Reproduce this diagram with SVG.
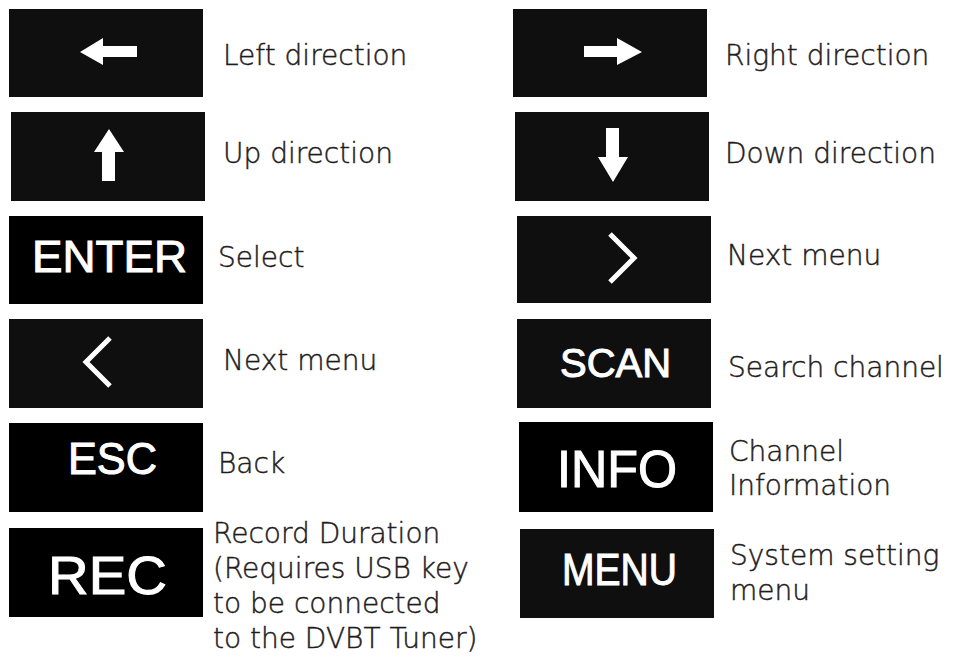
<svg xmlns="http://www.w3.org/2000/svg" width="956" height="670" viewBox="0 0 956 670">
<style>
.btn{fill:#0f0f0f}
.blk{fill:#000}
.key{fill:#fff;stroke:#fff;stroke-width:1;font-family:"Liberation Sans",Arial,sans-serif;text-anchor:middle}
.lbl{fill:#1f1c1d;stroke:#1f1c1d;stroke-width:0.45;font-family:"DejaVu Sans","Liberation Sans",sans-serif;font-size:28px;font-weight:300}
.glyph{fill:#fff}
.chev{fill:none;stroke:#fff;stroke-width:5;stroke-linecap:butt;stroke-linejoin:miter}
</style>
<rect width="956" height="670" fill="#fff"/>
<g id="left">
<rect class="btn" x="9" y="9" width="194" height="88"/>
<polygon class="glyph" points="80,52 103,38 103,46 137,46 137,57 103,57 103,65"/>
<text class="lbl" x="223" y="65">Left direction</text>
</g>
<g id="right">
<rect class="btn" x="513" y="9" width="194" height="88"/>
<polygon class="glyph" points="584,46 617,46 617,38 642,52 617,65 617,57 584,57"/>
<text class="lbl" x="725" y="65">Right direction</text>
</g>
<g id="up">
<rect class="btn" x="11" y="112" width="194" height="89"/>
<polygon class="glyph" points="109,129 124,152 115,152 115,181 102,181 102,152 94,152"/>
<text class="lbl" x="223" y="163">Up direction</text>
</g>
<g id="down">
<rect class="btn" x="515" y="112" width="194" height="89"/>
<polygon class="glyph" points="606,128 619,128 619,157 628,157 613,182 598,157 606,157"/>
<text class="lbl" x="725" y="163">Down direction</text>
</g>
<g id="enter">
<rect class="blk" x="9" y="216" width="194" height="88"/>
<text class="key" x="109.5" y="272" font-size="45" textLength="155" lengthAdjust="spacingAndGlyphs">ENTER</text>
<text class="lbl" x="218" y="267">Select</text>
</g>
<g id="next-right">
<rect class="btn" x="517" y="216" width="194" height="87"/>
<polyline class="chev" points="610,234 634,258 610,282"/>
<text class="lbl" x="727" y="265">Next menu</text>
</g>
<g id="next-left">
<rect class="btn" x="9" y="319" width="194" height="89"/>
<polyline class="chev" points="110,338 86,362 110,386"/>
<text class="lbl" x="223" y="370">Next menu</text>
</g>
<g id="scan">
<rect class="btn" x="517" y="319" width="194" height="89"/>
<text class="key" x="615.5" y="377" font-size="40" textLength="111" lengthAdjust="spacingAndGlyphs">SCAN</text>
<text class="lbl" x="728" y="377">Search channel</text>
</g>
<g id="esc">
<rect class="blk" x="9" y="423" width="194" height="89"/>
<text class="key" x="112.5" y="474" font-size="44" textLength="89" lengthAdjust="spacingAndGlyphs">ESC</text>
<text class="lbl" x="218" y="473">Back</text>
</g>
<g id="info">
<rect class="blk" x="519" y="422" width="194" height="90"/>
<text class="key" x="617" y="487" font-size="51" textLength="120" lengthAdjust="spacingAndGlyphs">INFO</text>
<text class="lbl" x="729" y="461">Channel</text>
<text class="lbl" x="729" y="495">Information</text>
</g>
<g id="rec">
<rect class="blk" x="9" y="528" width="194" height="89"/>
<text class="key" x="107.5" y="594" font-size="53" textLength="119" lengthAdjust="spacingAndGlyphs">REC</text>
<text class="lbl" x="213" y="543">Record Duration</text>
<text class="lbl" x="213" y="578">(Requires USB key</text>
<text class="lbl" x="213" y="613">to be connected</text>
<text class="lbl" x="213" y="648">to the DVBT Tuner)</text>
</g>
<g id="menu">
<rect class="btn" x="520" y="529" width="194" height="89"/>
<text class="key" x="619.5" y="585" font-size="44" textLength="115" lengthAdjust="spacingAndGlyphs">MENU</text>
<text class="lbl" x="730" y="565">System setting</text>
<text class="lbl" x="730" y="600">menu</text>
</g>
<g id="connectors"></g>
</svg>
